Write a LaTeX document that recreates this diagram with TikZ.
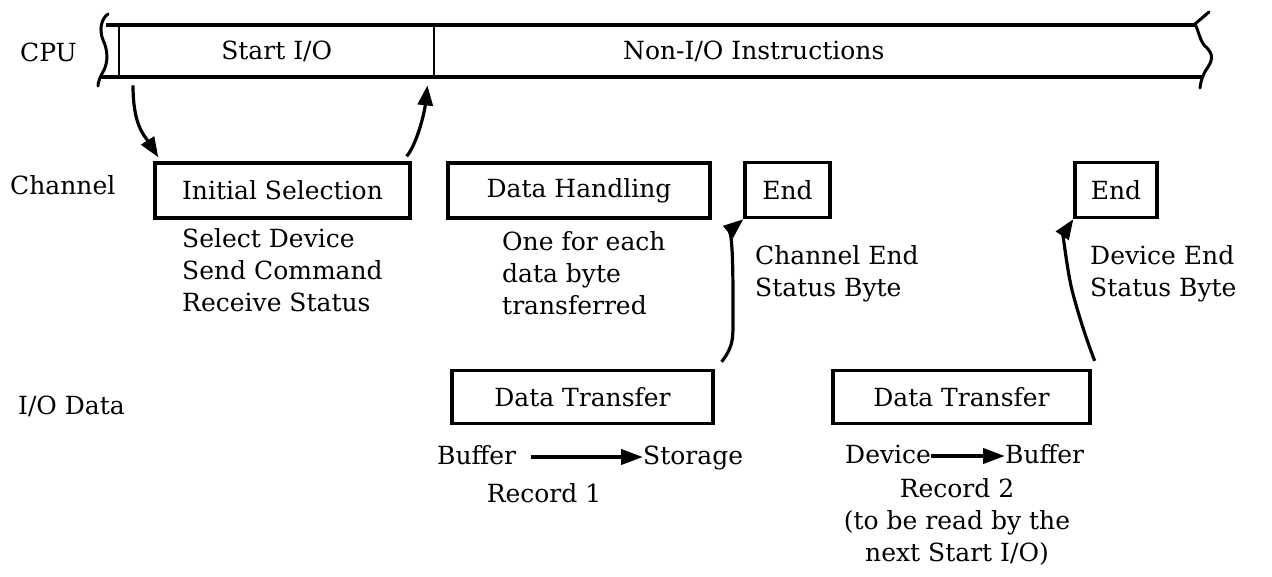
\documentclass[tikz,border=0pt]{standalone}
\usepackage{fontspec}
\setmainfont{DejaVu Serif}
\usetikzlibrary{arrows.meta,calc}
\begin{document}
\begin{tikzpicture}[x=1pt,y=-1pt,
  every node/.style={font=\fontsize{25}{32}\selectfont, inner sep=0pt},
  box/.style={draw, line width=3.4pt, minimum height=55pt},
  sub/.style={anchor=north west, align=left},
  barline/.style={line width=3.2pt},
  wave/.style={line width=3pt, line cap=round, line join=round},
  arr/.style={line width=3.2pt, -{Triangle[length=20pt,width=15pt]}},
  sarr/.style={line width=4pt, -{Triangle[length=22pt,width=15pt]}}
]
\useasboundingbox (0,0) rectangle (1272,577);

% CPU bar
\draw[barline] (106,25) -- (1196,25);
\draw[barline] (100,77) -- (1203,77);
\draw[line width=2.8pt] (119,25) -- (119,77);
\draw[line width=2.8pt] (434,25) -- (434,77);
\draw[wave] (108,14) .. controls (101,19) and (99,30) .. (103,40) .. controls (108,50) and (108,62) .. (104,70) .. controls (100,77) and (98,82) .. (98,86);
\draw[wave] (1209,12) -- (1195,24) .. controls (1199,32) and (1199,38) .. (1204,45) .. controls (1212,52) and (1214,58) .. (1208,67) .. controls (1203,74) and (1201,80) .. (1200,88);

\node[minimum width=315pt, minimum height=52pt, anchor=north west] (startio) at (119,25) {Start I/O};
\node[minimum width=762pt, minimum height=52pt, anchor=north west] (nonio) at (434,25) {};
\node[anchor=west] (nonitxt) at (623,51) {Non-I/O Instructions};

% row labels
\node[anchor=west] (cpu) at (20,52) {CPU};
\node[anchor=west] (chan) at (10,185) {Channel};
\node[anchor=west] (iod) at (18,406) {I/O Data};

% channel boxes
\node[box, minimum width=255pt] (initsel) at (282.5,190.5) {Initial Selection};
\node[box, minimum width=262pt] (datahand) at (579,190.5) {Data Handling};
\node[box, minimum width=85pt] (end1) at (787.5,190) {End};
\node[box, minimum width=82pt] (end2) at (1116,190) {End};

\node[sub] (selsub) at (182,228) {Select Device\\Send Command\\Receive Status};
\node[sub] (dhsub) at (502,231) {One for each\\data byte\\transferred};
\node[sub] (e1sub) at (755,245) {Channel End\\Status Byte};
\node[sub] (e2sub) at (1090,245) {Device End\\Status Byte};

% I/O data boxes
\node[box, minimum width=261pt, minimum height=53pt] (dt1) at (582.5,397) {Data Transfer};
\node[box, minimum width=257pt, minimum height=53pt] (dt2) at (961.5,397) {Data Transfer};

\node[anchor=base west] (buf1) at (437,464) {Buffer};
\node[anchor=base west] (sto) at (643,464) {Storage};
\draw[sarr] ([xshift=15pt,yshift=7pt]buf1.base east) -- ([yshift=7pt]sto.base west);
\node (rec1) at (544,493) {Record 1};

\node[anchor=base west] (dev) at (845,463) {Device};
\node[anchor=base west] (buf2) at (1005,463) {Buffer};
\draw[sarr] ([yshift=7pt]dev.base east) -- ([yshift=7pt]buf2.base west);
\node[align=center, anchor=north] (rec2) at (957,478) {Record 2\\(to be read by the\\next Start I/O)};

% curved arrows
\draw[arr] ([xshift=14pt,yshift=-8pt]startio.south west) .. controls +(0,40) and +(-14,-22) .. ([xshift=5pt,yshift=4pt]initsel.north west);
\draw[arr] ([xshift=-5pt,yshift=5pt]initsel.north east) .. controls +(10,-12) and +(-3,28) .. ([xshift=-7pt,yshift=-8pt]startio.south east);
\draw[arr] ([xshift=7pt,yshift=7pt]dt1.north east) .. controls +(13,-18) and +(0,40) .. (733,300) .. controls +(0,-50) and +(-12,10) .. (end1.south west);
\draw[arr] ([xshift=3pt,yshift=8pt]dt2.north east) .. controls +(-8,-20) and +(5,20) .. (1072,290) .. controls +(-5,-20) and +(-10,15) .. (end2.south west);
\end{tikzpicture}
\end{document}
